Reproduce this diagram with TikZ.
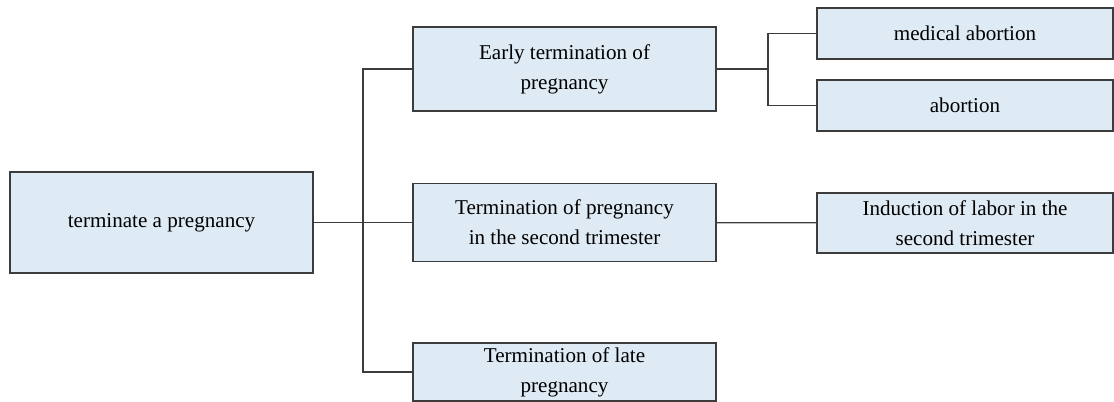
\documentclass[tikz,border=0pt]{standalone}
\usepackage{fontspec}
\setmainfont{Liberation Serif}
\usepackage{tikz}
\usetikzlibrary{positioning}
\definecolor{boxfill}{HTML}{DEEAF4}
\definecolor{boxline}{HTML}{3C3C3C}

\begin{document}
\begin{tikzpicture}[x=0.2mm, y=-0.2mm,
		box/.style={draw=boxline, fill=boxfill, line width=0.7pt, align=center, inner sep=0pt, font=\fontsize{12}{17}\selectfont},
		link/.style={draw=boxline, line width=0.7pt}]
		\useasboundingbox (0,0) rectangle (1114,402);
		\node[box, minimum width=60.6mm, minimum height=20.2mm] (root) at (161.5,222.5) {terminate a pregnancy};
		\node[box, minimum width=60.6mm, minimum height=16.8mm] (early) at (564.5,69) {Early termination of\\pregnancy};
		\node[box, minimum width=60.6mm, minimum height=15.6mm] (second) at (564.5,222.5) {Termination of pregnancy\\in the second trimester};
		\node[box, minimum width=60.6mm, minimum height=11.6mm] (late) at (564.5,372) {Termination of late\\pregnancy};
		\node[box, minimum width=59.2mm, minimum height=10.2mm] (medical) at (965,33.5) {medical abortion};
		\node[box, minimum width=59.2mm, minimum height=10.2mm] (abortion) at (965,105.5) {abortion};
		\node[box, minimum width=59.2mm, minimum height=12mm] (induction) at (965,223) {Induction of labor in the\\second trimester};
		\coordinate (trunk) at (363,222.5);
		\coordinate (fork) at (768,69);
		
		\draw[link] (root) -- (second);
		\draw[link] (trunk) |- (early.west);
		\draw[link] (trunk) |- (late.west);
		\draw[link] (early) -- (fork);
		\draw[link] (fork) |- (medical.west);
		\draw[link] (fork) |- (abortion.west);
		\draw[link] (second) -- (induction);
		
	\end{tikzpicture}
\end{document}
